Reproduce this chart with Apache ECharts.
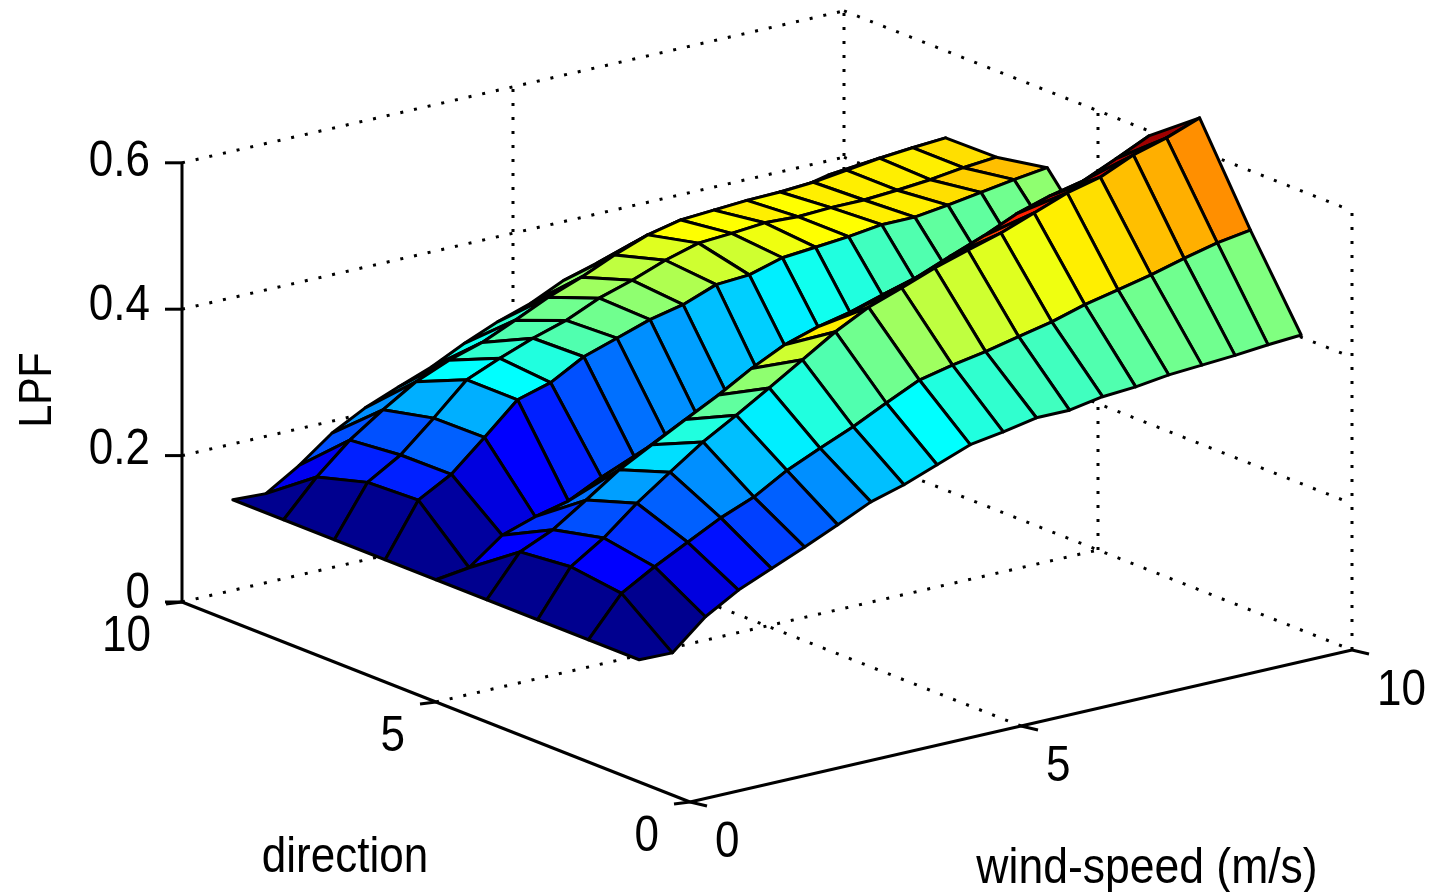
<!DOCTYPE html>
<html>
<head>
<meta charset="utf-8">
<style>html,body{margin:0;padding:0;background:#fff}#chart{width:1429px;height:892px}</style>
<script src="https://cdn.jsdelivr.net/npm/echarts@6/dist/echarts.min.js"></script>
</head>
<body>
<div id="chart"></div>
<script>
// wind-speed samples (columns) and direction samples (rows)
const windSpeed = [0,0.5,1,1.5,2,2.5,3,3.5,4,4.5,5,5.5,6,6.5,7,7.5,8,8.5,9,9.5,10];
const direction = [1,2,3,4,5,6,7,8,9];
// LPF, one list per direction
const lpfDir1 = [.167,.166,.205,.231,.250,.269,.289,.310,.323,.340,.357,.364,.373,.373,.381,.384,.390,.393,.396,.400,.403];
const lpfDir2 = [.167,.220,.246,.269,.292,.310,.336,.356,.375,.397,.418,.428,.436,.446,.456,.469,.479,.489,.501,.512,.519];
const lpfDir3 = [.167,.229,.258,.295,.327,.358,.384,.411,.439,.467,.490,.506,.523,.537,.550,.567,.584,.595,.615,.628,.645];
const lpfDir4 = [.167,.222,.242,.272,.303,.327,.351,.374,.400,.422,.436,.446,.460,.473,.491,.508,.528,.542,.552,.572,.593];
const lpfDir5 = [.167,.173,.207,.222,.233,.255,.272,.286,.298,.308,.322,.331,.348,.355,.370,.380,.384,.389,.395,.408,.410];
const lpfDir6 = [.167,.238,.263,.303,.344,.357,.382,.397,.412,.422,.439,.442,.455,.459,.463,.469,.469,.475,.482,.489,.495];
const lpfDir7 = [.167,.235,.262,.302,.344,.363,.380,.394,.414,.428,.445,.458,.461,.465,.463,.465,.465,.468,.472,.478,.482];
const lpfDir8 = [.167,.215,.255,.286,.314,.333,.347,.367,.388,.405,.425,.442,.452,.455,.458,.459,.462,.468,.474,.478,.481];
const lpfDir9 = [.167,.165,.193,.227,.251,.269,.286,.308,.327,.342,.363,.376,.391,.394,.400,.407,.410,.414,.424,.420,.430];
const lpf = [lpfDir1,lpfDir2,lpfDir3,lpfDir4,lpfDir5,lpfDir6,lpfDir7,lpfDir8,lpfDir9];
// axis ticks
const windTicks = [0,5,10];
const dirTicks = [0,5,10];
const lpfTicks = [0,0.2,0.4,0.6];
const lpfTickLabels = ['0','0.2','0.4','0.6'];

// Axonometric view of the 3D box onto the drawing plane
function project(x, y, z) {
  return [690 + 66.2 * x - 50.8 * y, 802 - 15.2 * x - 20 * y - 732 * z];
}

const all = lpf.flat();
const cmin = Math.min.apply(null, all), cmax = Math.max.apply(null, all);
function jet(c) {
  let i = Math.floor((c - cmin) / (cmax - cmin) * 64);
  i = Math.max(0, Math.min(63, i));
  const t = (i + 1) / 64;
  const f = (a) => Math.round(255 * Math.max(0, Math.min(1, a)));
  const r = Math.min(4 * t - 1.5, -4 * t + 4.5);
  const g = Math.min(4 * t - 0.5, -4 * t + 3.5);
  const b = Math.min(4 * t + 0.5, -4 * t + 2.5);
  return 'rgb(' + f(r) + ',' + f(g) + ',' + f(b) + ')';
}

// Surface cells, back to front
const cells = [];
for (let r = direction.length - 2; r >= 0; r--) {
  for (let k = windSpeed.length - 2; k >= 0; k--) cells.push([k, r]);
}

// Dotted box grid
const xMax = windTicks[windTicks.length - 1], yMax = dirTicks[dirTicks.length - 1], zMax = lpfTicks[lpfTicks.length - 1];
const dotted = [];
lpfTicks.forEach(z => {
  dotted.push([0, yMax, z, xMax, yMax, z]);
  dotted.push([xMax, yMax, z, xMax, 0, z]);
});
windTicks.forEach(x => {
  if (x > 0) dotted.push([x, yMax, 0, x, yMax, zMax]);
  if (x > 0 && x < xMax) dotted.push([x, 0, 0, x, yMax, 0]);
});
dirTicks.forEach(y => {
  if (y < yMax) dotted.push([xMax, y, 0, xMax, y, zMax]);
  if (y > 0 && y < yMax) dotted.push([0, y, 0, xMax, y, 0]);
});

const solid = [
  [0, 0, 0, xMax, 0, 0],
  [0, 0, 0, 0, yMax, 0],
  [0, yMax, 0, 0, yMax, zMax]
];

const FONT = '44px "Liberation Sans", Arial, sans-serif';
const TEXT_STRETCH = 1.12;

function segSeries(data, style) {
  return {
    type: 'custom', coordinateSystem: 'cartesian2d', silent: true, animation: false, clip: false,
    data: data, encode: {x: 0, y: 1},
    renderItem: function (p, api) {
      const a = api.coord(project(api.value(0), api.value(1), api.value(2)));
      const b = api.coord(project(api.value(3), api.value(4), api.value(5)));
      return {type: 'line', shape: {x1: a[0], y1: a[1], x2: b[0], y2: b[1]}, style: style};
    }
  };
}

// [x, y, z, dx, dy]
const tickMarks = [];
lpfTicks.forEach(z => tickMarks.push([0, yMax, z, -17, 0]));
dirTicks.forEach(y => tickMarks.push([0, y, 0, -16, 2]));
windTicks.forEach(x => tickMarks.push([x, 0, 0, 17, 4]));

// [x, y, z, dx, dy, text, align]
const tickLabels = [];
lpfTicks.forEach((z, i) => tickLabels.push([0, yMax, z, -32, -8 + 12 * z, lpfTickLabels[i], 'right']));
dirTicks.forEach(y => tickLabels.push([0, y, 0, -31, 35, String(y), 'right']));
windTicks.forEach(x => tickLabels.push([x, 0, 0, 25, 41, String(x), 'left']));

const option = {
  backgroundColor: '#ffffff',
  animation: false,
  grid: {left: 0, right: 0, top: 0, bottom: 0},
  xAxis: {type: 'value', min: 0, max: 1429, show: false},
  yAxis: {type: 'value', min: 0, max: 892, inverse: true, show: false},
  series: [
    segSeries(dotted, {stroke: '#000', lineWidth: 3, lineDash: [3, 11], fill: null}),
    segSeries(solid, {stroke: '#000', lineWidth: 3, fill: null}),
    {
      type: 'custom', coordinateSystem: 'cartesian2d', silent: true, animation: false, clip: false,
      data: tickMarks, encode: {x: 0, y: 1},
      renderItem: function (p, api) {
        const a = api.coord(project(api.value(0), api.value(1), api.value(2)));
        return {type: 'line', shape: {x1: a[0], y1: a[1], x2: a[0] + api.value(3), y2: a[1] + api.value(4)},
          style: {stroke: '#000', lineWidth: 3, fill: null}};
      }
    },
    {
      type: 'custom', coordinateSystem: 'cartesian2d', silent: true, animation: false, clip: false,
      data: cells, encode: {x: 0, y: 1},
      renderItem: function (p, api) {
        const k = api.value(0), r = api.value(1);
        const corner = (kk, rr) => api.coord(project(windSpeed[kk], direction[rr], lpf[rr][kk]));
        return {
          type: 'polygon',
          shape: {points: [corner(k, r), corner(k + 1, r), corner(k + 1, r + 1), corner(k, r + 1)]},
          style: {fill: jet(lpf[r][k]), stroke: '#000', lineWidth: 3, lineJoin: 'round'}
        };
      }
    },
    {
      type: 'custom', coordinateSystem: 'cartesian2d', silent: true, animation: false, clip: false,
      data: tickLabels.map(t => t.slice(0, 5)), encode: {x: 0, y: 1},
      renderItem: function (p, api) {
        const a = api.coord(project(api.value(0), api.value(1), api.value(2)));
        const t = tickLabels[p.dataIndex];
        return {type: 'text', x: a[0] + api.value(3), y: a[1] + api.value(4), scaleY: TEXT_STRETCH,
          style: {text: t[5], textAlign: t[6], textVerticalAlign: 'middle', font: FONT, fill: '#000'}};
      }
    },
    {
      type: 'custom', coordinateSystem: 'cartesian2d', silent: true, animation: false, clip: false,
      data: [[345, 858, 0, 44], [1147, 869, 1, 44.5], [38, 390, 2, 41]], encode: {x: 0, y: 1},
      renderItem: function (p, api) {
        const names = ['direction', 'wind-speed (m/s)', 'LPF'];
        const a = api.coord([api.value(0), api.value(1)]);
        const i = api.value(2);
        return {type: 'text', x: a[0], y: a[1], rotation: i === 2 ? Math.PI / 2 : 0, scaleY: TEXT_STRETCH,
          style: {text: names[i], textAlign: 'center', textVerticalAlign: 'middle',
            font: api.value(3) + 'px "Liberation Sans", Arial, sans-serif', fill: '#000'}};
      }
    }
  ]
};
echarts.init(document.getElementById('chart'), null, {renderer: 'canvas'}).setOption(option);
</script>
</body>
</html>
